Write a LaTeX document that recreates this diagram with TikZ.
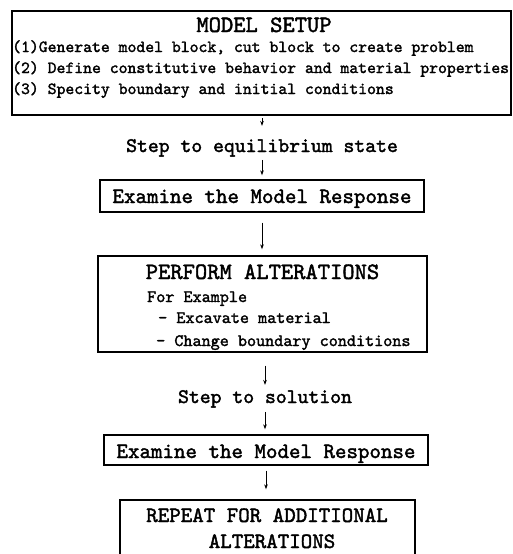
\documentclass[tikz,border=0pt]{standalone}
\usepackage{fontspec}
\setmonofont{lmmono10-regular.otf}[FakeBold=1.8]
\usetikzlibrary{arrows.meta}
\begin{document}
\begin{tikzpicture}[x=1pt,y=-1pt,
  box/.style={draw,line width=1.4pt,inner sep=0pt},
  conn/.style={-{Stealth[length=5pt,width=3.6pt]},line width=0.8pt},
  txt/.style={inner sep=0pt,anchor=base},
  txtl/.style={inner sep=0pt,anchor=base west},
  huge/.style={font=\ttfamily\fontsize{23.4}{26}\selectfont},
  big/.style={font=\ttfamily\fontsize{21.9}{25}\selectfont},
  mid/.style={font=\ttfamily\fontsize{20.7}{24}\selectfont},
  small/.style={font=\ttfamily\fontsize{16.9}{20}\selectfont},
  smallb/.style={font=\ttfamily\fontsize{17.3}{20}\selectfont}]
\useasboundingbox (0,0) rectangle (513,554);
% model setup
\node[box,line width=2pt,minimum width=499pt,minimum height=104pt] (setup) at (261.5,63) {};
\node[txt,huge] (setuptitle) at (264,32) {MODEL SETUP};
\node[txtl,small] (s1) at (12,52) {(1)Generate model block, cut block to create problem};
\node[txtl,small] (s2) at (12,73) {(2) Define constitutive behavior and material properties};
\node[txtl,small] (s3) at (12,94) {(3) Specity boundary and initial conditions};
% step to equilibrium
\node[txt,mid] (stepeq) at (262,152) {Step to equilibrium state};
% examine 1
\node[box,minimum width=324pt,minimum height=32pt] (exa1) at (262,196) {};
\node[txt,big] (exa1t) at (262,203) {Examine the Model Response};
% perform alterations
\node[box,minimum width=329pt,minimum height=96pt] (perf) at (262.5,304) {};
\node[txt,huge] (perft) at (262.5,279) {PERFORM ALTERATIONS};
\node[txtl,smallb] (p1) at (147,302) {For Example};
\node[txtl,smallb] (p2) at (158,323) {- Excavate material};
\node[txtl,smallb] (p3) at (156,346) {- Change boundary conditions};
% step to solution
\node[txt,mid] (stepsol) at (265,403) {Step to solution};
% examine 2
\node[box,minimum width=324pt,minimum height=30pt] (exa2) at (266,450) {};
\node[txt,big] (exa2t) at (266,458) {Examine the Model Response};
% repeat
\node[box,minimum width=295pt,minimum height=70pt] (rep) at (267.5,535) {};
\node[txt,big] (rep1) at (267,522) {REPEAT FOR ADDITIONAL};
\node[txt,big] (rep2) at (272,548) {ALTERATIONS};
% connectors
\draw[conn,shorten <=2pt,shorten >=13pt] (setup.south -| stepeq.north) -- (stepeq.north);
\draw[conn,shorten <=3pt,shorten >=4pt] (stepeq.south) -- (exa1.north -| stepeq.south);
\draw[conn,shorten <=10pt,shorten >=6pt] (exa1.south -| stepeq.south) -- (perf.north -| stepeq.south);
\draw[conn,shorten <=13pt,shorten >=5pt] (perf.south -| stepsol.north) -- (stepsol.north);
\draw[conn,shorten <=4pt,shorten >=5pt] (stepsol.south) -- (exa2.north -| stepsol.south);
\draw[conn,shorten <=5pt,shorten >=10pt] (exa2.south) -- (rep.north -| exa2.south);
\end{tikzpicture}
\end{document}
